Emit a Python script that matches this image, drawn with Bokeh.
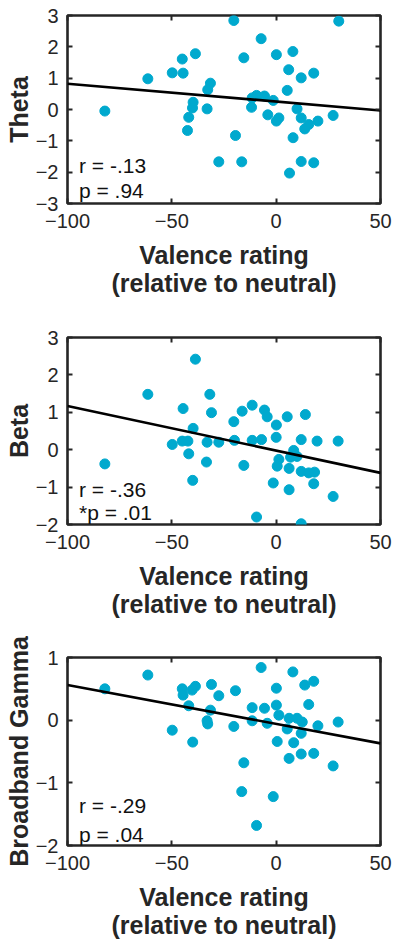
from bokeh.plotting import figure
from bokeh.layouts import column
from bokeh.models import Range1d, LinearAxis, FixedTicker, Label
from bokeh.embed import file_html
from bokeh.resources import INLINE

# ---------------- data ----------------
theta_x = [-20.3, 30, -7.2, -38.7, -45, -15.5, 0.1, 8, -49.8, -44.6, -61.5, 6, 18, 12,
           -31.5, -32.8, 5.3, -9.4, -11.5, -5.6, -1.4, -39.8, -40.1, -33.1, -11.8, 10,
           -82.1, -41.9, -4, 1.3, 0.1, 12, 20, 27.3, 15.6, 13.7, -42.5, -19.5, 8.1,
           -27.5, -16.5, 12, 18, 6.4]
theta_y = [2.84, 2.82, 2.26, 1.78, 1.61, 1.65, 1.75, 1.85, 1.17, 1.16, 0.98, 1.27, 1.16, 1.01,
           0.84, 0.63, 0.61, 0.45, 0.37, 0.43, 0.29, 0.23, 0.05, 0.02, 0.07, 0.02,
           -0.05, -0.25, -0.17, -0.27, -0.37, -0.27, -0.37, -0.19, -0.48, -0.62, -0.67, -0.83, -0.9,
           -1.67, -1.67, -1.66, -1.7, -2.03]

beta_x = [-38.7, -61.5, -31.8, -44.6, -31, -11.5, -16.3, -5.6, -4.3, 5.3, 14, 0.1, -20.3,
          -39.8, -49.8, -45, -42.3, -33.1, -27.5, -20, -11.5, -7, 0, 12, 19.6, 29.7,
          -41.9, 8.4, 6.9, 10, 1.3, -82.1, -33.4, -15.5, 0.5, 6.2, 12, 15.6, 18.4,
          18, -40, -1.4, 6.2, 27.3, -9.4, 12]
beta_y = [2.42, 1.48, 1.48, 1.10, 0.99, 1.19, 1.03, 1.06, 0.88, 0.88, 0.94, 0.66, 0.75,
          0.57, 0.14, 0.23, 0.23, 0.2, 0.2, 0.25, 0.25, 0.27, 0.33, 0.27, 0.23, 0.23,
          -0.11, -0.02, -0.2, -0.18, -0.26, -0.38, -0.33, -0.42, -0.44, -0.5, -0.58, -0.62, -0.6,
          -0.91, -0.82, -0.89, -1.07, -1.25, -1.8, -1.98]

gamma_x = [-7.2, 8, -61.5, 18, 13.7, -82.1, -31, -38.7, -45, -40.3, 0.1, -19.5, -44.6,
           -27.5, -41.9, -11.5, -5.6, 0.1, 15.6, -31.5, 1.3, -33.1, -32.8, -11.5, -4.3,
           6.2, 10, 12.5, 5.3, 12, 20, 29.7, -20.3, -49.8, -40, 0.5, 8.4, 12, 18, 6.2,
           27.3, -15.5, -16.5, -1.4, -9.4]
gamma_y = [0.84, 0.77, 0.72, 0.62, 0.56, 0.5, 0.57, 0.54, 0.5, 0.48, 0.51, 0.47, 0.4,
           0.39, 0.23, 0.2, 0.19, 0.24, 0.25, 0.16, 0.08, -0.01, -0.06, -0.01, -0.05,
           0.03, 0.03, -0.03, -0.14, -0.21, -0.09, -0.03, -0.1, -0.16, -0.35, -0.34, -0.36,
           -0.54, -0.53, -0.61, -0.73, -0.68, -1.14, -1.22, -1.68]

fit_x = [-100, 50]
theta_fit = [0.82, -0.03]
beta_fit = [1.17, -0.62]
gamma_fit = [0.56, -0.37]

x_ticks = [-100, -50, 0, 50]
theta_ticks = [-3, -2, -1, 0, 1, 2, 3]
beta_ticks = [-2, -1, 0, 1, 2, 3]
gamma_ticks = [-2, -1, 0, 1]

stats = {
    "theta": ("r = -.13", "p = .94"),
    "beta": ("r = -.36", "*p = .01"),
    "gamma": ("r = -.29", "p = .04"),
}

# ---------------- styling ----------------
FONT = "Liberation Sans"
DARK = "#262626"
DOT = "#00A9CE"


def make_panel(xs, ys, fit, yr, yticks, ylabel, stat, stat_y, fh, top, bottom):
    p = figure(frame_width=313, frame_height=fh, output_backend="svg", toolbar_location=None,
               x_range=Range1d(-100, 50), y_range=Range1d(*yr),
               min_border_left=67, min_border_right=14, min_border_top=top,
               min_border_bottom=bottom)
    p.grid.visible = False
    p.outline_line_color = DARK
    p.outline_line_width = 2.6
    p.outline_line_alpha = 1.0
    p.background_fill_color = "white"
    p.border_fill_color = "white"

    for ax in (p.xaxis[0], p.yaxis[0]):
        ax.axis_line_color = None
        ax.major_tick_in = 5
        ax.major_tick_out = 0
        ax.minor_tick_line_color = None
        ax.major_tick_line_color = DARK
        ax.major_tick_line_width = 2
        ax.major_label_text_font = FONT
        ax.major_label_text_font_size = "20px"
        ax.major_label_text_color = DARK
        ax.axis_label_text_font = FONT
        ax.axis_label_text_font_style = "bold"
        ax.axis_label_text_font_size = "25px"
        ax.axis_label_text_color = DARK

    p.xaxis.ticker = FixedTicker(ticks=x_ticks)
    p.yaxis.ticker = FixedTicker(ticks=yticks)
    p.xaxis.major_label_standoff = 10
    p.yaxis.major_label_standoff = 9
    p.xaxis.axis_label = "Valence rating\n(relative to neutral)"
    p.xaxis.axis_label_text_line_height = 1.0
    p.xaxis.axis_label_standoff = 10
    p.yaxis.axis_label = ylabel
    p.yaxis.axis_label_standoff = 0

    # mirrored ticks (box on), without labels
    for loc, tk in (("right", yticks), ("above", x_ticks)):
        ax = LinearAxis(ticker=FixedTicker(ticks=tk))
        ax.axis_line_color = None
        ax.major_tick_in = 5
        ax.major_tick_out = 0
        ax.minor_tick_line_color = None
        ax.major_tick_line_color = DARK
        ax.major_tick_line_width = 2
        ax.major_label_text_font_size = "0px"
        ax.major_label_text_color = None
        ax.major_label_standoff = 0
        p.add_layout(ax, loc)

    p.scatter(xs, ys, size=10, color=DOT, line_color=DOT)
    p.line(fit_x, fit, line_color="black", line_width=2.6)

    for txt, yy in zip(stat, stat_y):
        p.add_layout(Label(x=-94.5, y=yy, text=txt, text_font=FONT, text_font_size="21px",
                           text_color="#111111", text_baseline="alphabetic"))
    return p


p1 = make_panel(theta_x, theta_y, theta_fit, (-3, 3), theta_ticks, "Theta",
                stats["theta"], (-1.79, -2.59), 188, 15, 119)
p2 = make_panel(beta_x, beta_y, beta_fit, (-2, 3), beta_ticks, "Beta",
                stats["beta"], (-1.07, -1.69), 187, 15, 101)
p3 = make_panel(gamma_x, gamma_y, gamma_fit, (-2, 1), gamma_ticks, "Broadband Gamma",
                stats["gamma"], (-1.36, -1.82), 188, 32, 98)

layout = column(p1, p2, p3, spacing=0)
open("out.html", "w").write(file_html(layout, INLINE))
